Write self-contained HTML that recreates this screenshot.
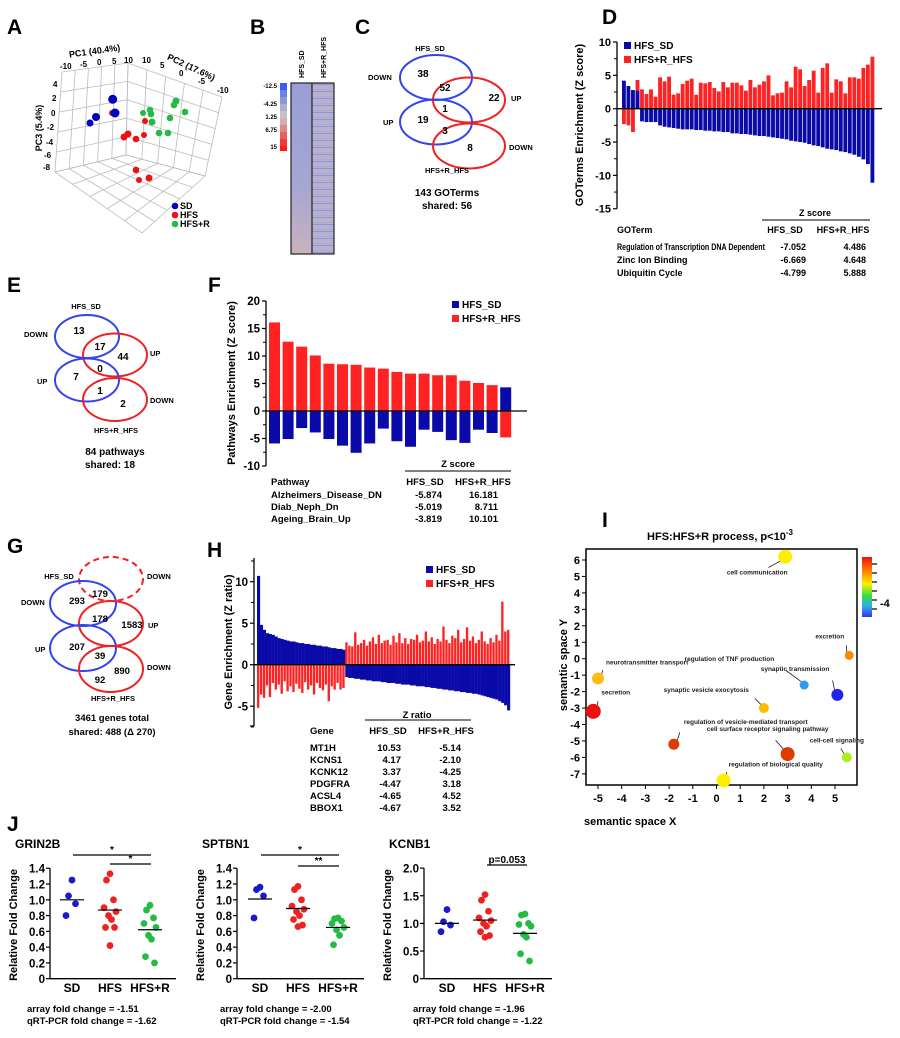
<!DOCTYPE html>
<html><head><meta charset="utf-8">
<style>
html,body{margin:0;padding:0;background:#fff;}
svg{display:block;font-family:"Liberation Sans",Arial,sans-serif;font-weight:bold;}
</style></head>
<body>
<svg id="fig" width="900" height="1038" viewBox="0 0 900 1038" xmlns="http://www.w3.org/2000/svg">
<rect width="900" height="1038" fill="#fff"/>
<!-- panel letters -->
<g font-size="21" fill="#000">
<text x="7" y="34">A</text><text x="250" y="34">B</text><text x="355" y="34">C</text><text x="602" y="24">D</text>
<text x="7" y="292">E</text><text x="208" y="292">F</text><text x="7" y="553">G</text><text x="207" y="557">H</text>
<text x="602" y="527">I</text><text x="7" y="831">J</text>
</g>

<!-- Panel A: 3D PCA -->
<g id="pA" stroke="#bbb" stroke-width="0.8" fill="none"></g>
<g font-size="8" fill="#000">
<text x="95" y="54" font-size="9" text-anchor="middle" transform="rotate(-8 95 54)">PC1 (40.4%)</text>
<text x="60" y="69">-10</text><text x="80" y="67">-5</text><text x="97" y="65">0</text><text x="112" y="64">5</text><text x="124" y="63">10</text>
<text x="190" y="70" font-size="9" text-anchor="middle" transform="rotate(25 190 70)">PC2 (17.6%)</text>
<text x="142" y="63">10</text><text x="160" y="68">5</text><text x="179" y="76">0</text><text x="198" y="84">-5</text><text x="217" y="93">-10</text>
<text x="42" y="128" font-size="9" text-anchor="middle" transform="rotate(-90 42 128)">PC3 (5.4%)</text>
<text x="53" y="87">4</text><text x="52" y="101">2</text><text x="51" y="116">0</text><text x="47" y="130">-2</text><text x="46" y="145">-4</text><text x="44" y="158">-6</text><text x="43" y="170">-8</text>
</g>
<g id="pAdots"></g>
<g font-size="9" fill="#000">
<circle cx="175" cy="206" r="3.3" fill="#0000c0"/><text x="180" y="209">SD</text>
<circle cx="175" cy="215" r="3.3" fill="#ee1111"/><text x="180" y="218">HFS</text>
<circle cx="175" cy="224" r="3.3" fill="#22bb44"/><text x="180" y="227">HFS+R</text>
</g>

<!-- Panel B heatmap -->
<defs>
<linearGradient id="hb1" x1="0" y1="0" x2="0" y2="1"><stop offset="0" stop-color="#9a9ed6"/><stop offset="0.6" stop-color="#a5a6d2"/><stop offset="1" stop-color="#c9b2bd"/></linearGradient>
<pattern id="hb2" width="22" height="7" patternUnits="userSpaceOnUse"><rect width="22" height="7" fill="#b4b2d0"/><rect y="0" width="22" height="1" fill="#9296d8"/><rect y="3.5" width="22" height="0.8" fill="#c6afbf"/><rect y="5.3" width="22" height="0.6" fill="#a3a6d6"/></pattern>
</defs>
<g>
<rect x="280" y="83" width="7" height="7" fill="#3b5cf0"/><rect x="280" y="90" width="7" height="7" fill="#6c80e0"/><rect x="280" y="97" width="7" height="7" fill="#8c98d6"/>
<rect x="280" y="104" width="7" height="7" fill="#aab0d2"/><rect x="280" y="111" width="7" height="7" fill="#c4c4c8"/><rect x="280" y="118" width="7" height="7" fill="#d4aeb0"/>
<rect x="280" y="125" width="7" height="7" fill="#e08888"/><rect x="280" y="132" width="7" height="7" fill="#e86060"/><rect x="280" y="139" width="7" height="7" fill="#f03a3a"/><rect x="280" y="146" width="7" height="5" fill="#ff1a1a"/>
<rect x="291" y="83" width="21" height="171" fill="url(#hb1)"/>
<rect x="312" y="83" width="22" height="171" fill="url(#hb2)"/>
<rect x="291" y="83" width="43" height="171" fill="none" stroke="#222" stroke-width="1.2"/>
<line x1="312" y1="83" x2="312" y2="254" stroke="#222" stroke-width="1.2"/>
</g>
<g font-size="6" fill="#000" text-anchor="end">
<text x="277" y="88">-12.5</text><text x="277" y="106">-4.25</text><text x="277" y="119">1.25</text><text x="277" y="132">6.75</text><text x="277" y="149">15</text>
</g>
<g font-size="7" fill="#000">
<text transform="translate(304 78) rotate(-90)">HFS_SD</text>
<text transform="translate(326 78) rotate(-90)">HFS+R_HFS</text>
</g>

<!-- Panel C Venn -->
<g fill="none" stroke-width="2">
<ellipse cx="436" cy="77.5" rx="36" ry="22.5" stroke="#3344ee"/>
<ellipse cx="469" cy="100" rx="36" ry="22.5" stroke="#ee2222"/>
<ellipse cx="436" cy="122" rx="36" ry="22.5" stroke="#3344ee"/>
<ellipse cx="469" cy="146" rx="36" ry="22.5" stroke="#ee2222"/>
</g>
<g font-size="7.5" fill="#000">
<text x="430" y="51" text-anchor="middle">HFS_SD</text><text x="368" y="80">DOWN</text><text x="383" y="125">UP</text>
<text x="511" y="101">UP</text><text x="509" y="150">DOWN</text><text x="447" y="173" text-anchor="middle">HFS+R_HFS</text>
</g>
<g font-size="10" fill="#000" text-anchor="middle">
<text x="423" y="77">38</text><text x="445" y="91">52</text><text x="494" y="101">22</text><text x="445" y="112">1</text>
<text x="423" y="123">19</text><text x="445" y="134">3</text><text x="470" y="151">8</text>
<text x="447" y="196">143 GOTerms</text><text x="447" y="209">shared: 56</text>
</g>

<!-- Panel D -->
<g id="pD"></g>
<g font-size="9" fill="#000">
<text x="815" y="216" text-anchor="middle">Z score</text>
<line x1="762" y1="220" x2="870" y2="220" stroke="#000" stroke-width="1"/>
<text x="617" y="233">GOTerm</text><text x="785" y="233" text-anchor="middle">HFS_SD</text><text x="843" y="233" text-anchor="middle">HFS+R_HFS</text>
<text x="617" y="250" textLength="148" lengthAdjust="spacingAndGlyphs">Regulation of Transcription DNA Dependent</text><text x="806" y="250" text-anchor="end">-7.052</text><text x="866" y="250" text-anchor="end">4.486</text>
<text x="617" y="263">Zinc Ion Binding</text><text x="806" y="263" text-anchor="end">-6.669</text><text x="866" y="263" text-anchor="end">4.648</text>
<text x="617" y="276">Ubiquitin Cycle</text><text x="806" y="276" text-anchor="end">-4.799</text><text x="866" y="276" text-anchor="end">5.888</text>
</g>

<!-- Panel E Venn -->
<g fill="none" stroke-width="2">
<ellipse cx="87" cy="336.5" rx="32" ry="21.5" stroke="#3344ee"/>
<ellipse cx="115" cy="355" rx="32" ry="21.5" stroke="#ee2222"/>
<ellipse cx="87" cy="380" rx="32" ry="21.5" stroke="#3344ee"/>
<ellipse cx="115" cy="399.5" rx="32" ry="21.5" stroke="#ee2222"/>
</g>
<g font-size="7.5" fill="#000">
<text x="86" y="309" text-anchor="middle">HFS_SD</text><text x="24" y="337">DOWN</text><text x="37" y="384">UP</text>
<text x="150" y="356">UP</text><text x="150" y="403">DOWN</text><text x="116" y="433" text-anchor="middle">HFS+R_HFS</text>
</g>
<g font-size="10" fill="#000" text-anchor="middle">
<text x="79" y="334">13</text><text x="100" y="350">17</text><text x="123" y="360">44</text><text x="100" y="372">0</text>
<text x="76" y="380">7</text><text x="100" y="394">1</text><text x="123" y="407">2</text>
<text x="115" y="455">84 pathways</text><text x="110" y="468">shared: 18</text>
</g>

<!-- Panel F -->
<g id="pF"></g>
<g font-size="9.5" fill="#000">
<text x="458" y="467" text-anchor="middle">Z score</text>
<line x1="405" y1="471" x2="511" y2="471" stroke="#000" stroke-width="1"/>
<text x="271" y="485">Pathway</text><text x="425" y="485" text-anchor="middle">HFS_SD</text><text x="483" y="485" text-anchor="middle">HFS+R_HFS</text>
<text x="271" y="498">Alzheimers_Disease_DN</text><text x="442" y="498" text-anchor="end">-5.874</text><text x="498" y="498" text-anchor="end">16.181</text>
<text x="271" y="510">Diab_Neph_Dn</text><text x="442" y="510" text-anchor="end">-5.019</text><text x="498" y="510" text-anchor="end">8.711</text>
<text x="271" y="522">Ageing_Brain_Up</text><text x="442" y="522" text-anchor="end">-3.819</text><text x="498" y="522" text-anchor="end">10.101</text>
</g>

<!-- Panel G Venn -->
<g fill="none" stroke-width="2">
<ellipse cx="111" cy="579" rx="32" ry="22" stroke="#ee2222" stroke-dasharray="6,4"/>
<ellipse cx="83" cy="603.5" rx="33" ry="22.5" stroke="#3344ee"/>
<ellipse cx="111" cy="623.5" rx="32" ry="22.5" stroke="#ee2222"/>
<ellipse cx="83" cy="648" rx="33" ry="23" stroke="#3344ee"/>
<ellipse cx="111" cy="669" rx="32" ry="23" stroke="#ee2222"/>
</g>
<g font-size="7.5" fill="#000">
<text x="59" y="579" text-anchor="middle">HFS_SD</text><text x="147" y="579">DOWN</text><text x="21" y="605">DOWN</text>
<text x="148" y="628">UP</text><text x="35" y="652">UP</text><text x="147" y="670">DOWN</text>
<text x="113" y="701" text-anchor="middle">HFS+R_HFS</text>
</g>
<g font-size="9.5" fill="#000" text-anchor="middle">
<text x="77" y="604">293</text><text x="100" y="597">179</text><text x="100" y="622">178</text><text x="132" y="628">1583</text>
<text x="77" y="650">207</text><text x="100" y="659">39</text><text x="100" y="683">92</text><text x="122" y="674">890</text>
<text x="112" y="721">3461 genes total</text><text x="112" y="735">shared: 488 (Δ 270)</text>
</g>

<!-- Panel H -->
<g id="pH"></g>
<g font-size="9.5" fill="#000">
<text x="417" y="718" text-anchor="middle">Z ratio</text>
<line x1="365" y1="720" x2="471" y2="720" stroke="#000" stroke-width="1"/>
<text x="310" y="734">Gene</text><text x="388" y="734" text-anchor="middle">HFS_SD</text><text x="446" y="734" text-anchor="middle">HFS+R_HFS</text>
<text x="310" y="751">MT1H</text><text x="401" y="751" text-anchor="end">10.53</text><text x="461" y="751" text-anchor="end">-5.14</text>
<text x="310" y="763">KCNS1</text><text x="401" y="763" text-anchor="end">4.17</text><text x="461" y="763" text-anchor="end">-2.10</text>
<text x="310" y="775">KCNK12</text><text x="401" y="775" text-anchor="end">3.37</text><text x="461" y="775" text-anchor="end">-4.25</text>
<text x="310" y="787">PDGFRA</text><text x="401" y="787" text-anchor="end">-4.47</text><text x="461" y="787" text-anchor="end">3.18</text>
<text x="310" y="799">ACSL4</text><text x="401" y="799" text-anchor="end">-4.65</text><text x="461" y="799" text-anchor="end">4.52</text>
<text x="310" y="811">BBOX1</text><text x="401" y="811" text-anchor="end">-4.67</text><text x="461" y="811" text-anchor="end">3.52</text>
</g>

<!-- Panel I -->
<defs>
<linearGradient id="rainbow" x1="0" y1="0" x2="0" y2="1">
<stop offset="0" stop-color="#ee1111"/><stop offset="0.25" stop-color="#ff8800"/><stop offset="0.45" stop-color="#ffee00"/><stop offset="0.65" stop-color="#33dd44"/><stop offset="0.82" stop-color="#33aaee"/><stop offset="1" stop-color="#3333ee"/>
</linearGradient>
</defs>
<g id="pI"></g>
<g fill="#000">
<text x="720" y="540" font-size="11" text-anchor="middle">HFS:HFS+R   process, p&lt;10<tspan font-size="8" dy="-5">-3</tspan></text>
<text x="584" y="825" font-size="11">semantic space X</text>
<text x="567" y="665" font-size="11" text-anchor="middle" transform="rotate(-90 567 665)">semantic space Y</text>
<rect x="862" y="557" width="10" height="60" fill="url(#rainbow)"/>
<text x="880" y="607" font-size="11">-4</text>
</g>

<!-- Panel J -->
<g id="pJ"></g>
<g font-size="9.5" fill="#000">
<text x="27" y="1012">array fold change = -1.51</text><text x="27" y="1024">qRT-PCR fold change = -1.62</text>
<text x="220" y="1012">array fold change = -2.00</text><text x="220" y="1024">qRT-PCR fold change = -1.54</text>
<text x="413" y="1012">array fold change = -1.96</text><text x="413" y="1024">qRT-PCR fold change = -1.22</text>
</g>
</svg>

<script>
// ---------- DATA ----------
const pcaSD = [[112.7,99.3,4.5],[115,113,4.5],[96,117,4],[90,123,3.5]];
const pcaHFS = [[112,113,3],[145,121,3],[124,137,3.5],[128,134,3.5],[136,139,3.3],[144,135,3],[136,170,3.3],[149,178,3.5],[139,180,3]];
const pcaHFSR = [[176,101,3.5],[174,105,3.3],[185,112,3.3],[150,110,3.3],[143,113,3],[151,114,3.3],[170,118,3.3],[152,122,3.5],[159,133,3.3],[168,133,3.3]];

const goBlue = [4.2,3.4,2.8,2.7,-1.9,-2.0,-2.0,-2.0,-2.5,-2.7,-2.8,-2.9,-3.0,-3.1,-3.1,-3.1,-3.2,-3.2,-3.3,-3.3,-3.4,-3.4,-3.5,-3.5,-3.7,-3.7,-3.8,-3.8,-3.9,-4.0,-4.1,-4.1,-4.2,-4.3,-4.4,-4.5,-4.6,-4.8,-4.9,-5.0,-5.1,-5.3,-5.5,-5.6,-5.8,-6.0,-6.1,-6.2,-6.4,-6.5,-6.7,-6.9,-7.2,-7.6,-8.3,-11.1];
const goRed = [-2.3,-2.5,-3.5,4.3,2.9,2.2,2.9,1.8,4.7,4.1,4.8,2.1,2.3,3.7,4.2,4.5,2.1,3.9,3.8,4.0,3.1,2.6,4.0,3.2,3.9,3.9,3.5,2.7,4.3,3.2,3.6,4.1,5.0,2.0,2.3,2.4,4.1,3.2,6.3,5.9,3.4,4.3,5.7,2.4,6.1,6.8,2.4,4.4,4.1,2.3,4.7,4.7,4.5,6.1,6.6,7.8];
const goTicks = [10,5,0,-5,-10,-15];

const pwRed = [16.1,12.6,11.7,10.1,8.6,8.5,8.4,7.9,7.7,7.1,6.8,6.8,6.5,6.5,5.5,5.1,4.7,-4.8];
const pwBlue = [-5.9,-5.1,-3.1,-3.9,-5.1,-6.3,-7.6,-5.9,-3.2,-5.5,-6.5,-3.4,-3.8,-5.3,-5.8,-3.4,-4.0,4.3];
const pwTicks = [20,15,10,5,0,-5,-10];

const geneBlue = [10.7,4.8,4.2,3.8,3.7,3.6,3.4,3.2,3.1,3.0,2.9,2.8,2.8,2.7,2.6,2.6,2.5,2.5,2.4,2.4,2.3,2.3,2.2,2.2,2.1,2.0,2.0,1.9,1.9,1.8,
 -1.5,-1.6,-1.6,-1.7,-1.7,-1.8,-1.8,-1.9,-1.9,-2.0,-2.0,-2.0,-2.1,-2.1,-2.2,-2.2,-2.2,-2.3,-2.3,-2.4,-2.4,-2.4,-2.5,-2.5,-2.6,-2.6,-2.6,-2.7,-2.7,-2.8,-2.8,-2.9,-2.9,-3.0,-3.0,-3.1,-3.1,-3.2,-3.2,-3.3,-3.3,-3.4,-3.4,-3.5,-3.5,-3.6,-3.7,-3.8,-3.9,-4.0,-4.1,-4.2,-4.4,-4.6,-4.9,-5.5];
const geneRed = [-5.2,-3.6,-4.0,-2.5,-3.9,-2.2,-3.0,-2.4,-3.5,-2.0,-3.2,-2.6,-3.3,-2.3,-2.9,-3.4,-2.1,-3.0,-2.5,-3.6,-2.2,-2.8,-3.1,-2.4,-4.4,-2.6,-3.0,-2.2,-3.0,-2.8,
 2.7,2.3,2.2,3.9,2.4,2.6,3.0,2.3,2.8,3.3,2.5,3.6,2.6,2.9,3.0,2.4,3.5,2.7,3.8,2.6,3.2,2.5,3.1,3.0,3.6,2.7,2.9,4.0,2.8,3.3,2.5,3.1,2.8,4.6,3.0,2.6,3.5,3.2,4.2,2.7,3.1,4.5,2.9,3.4,2.6,3.0,4.0,2.8,2.5,3.2,2.7,3.6,2.9,7.6,4.0,4.2];
const geneTicks = [10,5,0,-5];

const termNames = ["cell communication","excretion","regulation of TNF production","synaptic transmission","synaptic vesicle exocytosis","neurotransmitter transport","secretion","regulation of vesicle-mediated transport","cell surface receptor signaling pathway","cell-cell signaling","regulation of biological quality"];
const termX = [2.9,5.6,3.7,5.1,2.0,-5.0,-5.2,-1.8,3.0,5.5,0.3];
const termY = [6.2,0.2,-1.6,-2.2,-3.0,-1.2,-3.2,-5.2,-5.8,-6.0,-7.4];
const termSize = [7,4.5,4.5,6,5,6,7.5,5.5,7,5,7];
const termColor = ["#ffee00","#ff8800","#3399ee","#2222ee","#ffbb00","#ffbb11","#ee1111","#e03a00","#e03a00","#aaee22","#ffee00"];
const semXTicks = [-5,-4,-3,-2,-1,0,1,2,3,4,5];
const semYTicks = [6,5,4,3,2,1,0,-1,-2,-3,-4,-5,-6,-7];

const groups = ["SD","HFS","HFS+R"];
const grinSD=[1.25,1.05,0.95,0.8], grinHFS=[1.33,1.25,1.0,0.9,0.85,0.8,0.75,0.65,0.65,0.42], grinR=[0.93,0.87,0.77,0.7,0.65,0.55,0.5,0.28,0.2];
const grinMean=[1.0,0.87,0.62];
const spSD=[1.16,1.13,1.05,0.77], spHFS=[1.17,1.13,1.0,0.92,0.88,0.85,0.8,0.75,0.68,0.66], spR=[0.77,0.76,0.73,0.7,0.65,0.62,0.55,0.43];
const spMean=[1.01,0.89,0.65];
const kcSD=[1.25,1.03,0.97,0.85], kcHFS=[1.52,1.42,1.22,1.1,1.05,1.0,0.95,0.85,0.78,0.75], kcR=[1.17,1.15,1.0,0.98,0.95,0.8,0.75,0.45,0.32];
const kcMean=[1.0,1.06,0.82];
const tickA=[0,0.2,0.4,0.6,0.8,1.0,1.2,1.4];
const tickB=[0,0.5,1.0,1.5,2.0];
const tickBLabels=["0","0.5","1.0","1.5","2.0"];

// ---------- DRAW ----------
const NS="http://www.w3.org/2000/svg";
function mk(tag,parent,attrs){const e=document.createElementNS(NS,tag);for(const k in attrs)e.setAttribute(k,attrs[k]);parent.appendChild(e);return e;}
const BLUE="#0a0aa8", RED="#ff2222";

// A box with grid
(function(){
 const g=document.getElementById('pA');
 const walls=[[[62,72],[128,63],[126,155],[55,172]],[[128,63],[222,97],[205,176],[126,155]],[[55,172],[126,155],[205,176],[142,233]]];
 const lerp=(a,b,t)=>[a[0]+(b[0]-a[0])*t,a[1]+(b[1]-a[1])*t];
 walls.forEach(q=>{
  const w=mk('polygon',g,{points:q.map(p=>p.join(',')).join(' ')});
  
  
  for(let k=1;k<5;k++){
   const t=k/5;
   const a=lerp(q[0],q[1],t), b=lerp(q[3],q[2],t);
   mk('line',g,{x1:a[0],y1:a[1],x2:b[0],y2:b[1]});
   const c=lerp(q[0],q[3],t), d=lerp(q[1],q[2],t);
   mk('line',g,{x1:c[0],y1:c[1],x2:d[0],y2:d[1]});
  }
 });
})();
const pAd=document.getElementById('pAdots');
[[pcaHFS,"#ee1111"],[pcaSD,"#0000c0"],[pcaHFSR,"#22bb44"]].forEach(([arr,c])=>{arr.forEach(p=>{
 const e=mk('circle',pAd,{cx:p[0],cy:p[1],r:p[2],fill:c});
 
 
});});

function yAxis(g,x,y0,y1,ticks,ys,fs,labels){
 const ax=mk('line',g,{x1:x,y1:y0,x2:x,y2:y1,stroke:'#000','stroke-width':1.3});
 
 
 ticks.forEach((t,i)=>{
  mk('line',g,{x1:x-4,y1:ys(t),x2:x,y2:ys(t),stroke:'#000','stroke-width':1.2});
  const tx=mk('text',g,{x:x-6,y:ys(t)+fs*0.36,'font-size':fs,'text-anchor':'end'});
  tx.textContent=labels?labels[i]:String(t);
  
  
 });
}
function legend(g,x,y){
 mk('rect',g,{x:x,y:y,width:7,height:7,fill:BLUE});
 const l1=mk('text',g,{x:x+10,y:y+7,'font-size':10});l1.textContent='HFS_SD';
 
 
 mk('rect',g,{x:x,y:y+14,width:7,height:7,fill:RED});
 const l2=mk('text',g,{x:x+10,y:y+21,'font-size':10});l2.textContent='HFS+R_HFS';
 
 
}

// D
(function(){
 const g=document.getElementById('pD');
 const ys=v=>108.7-v*6.67;
 const N=Math.min(goBlue.length,goRed.length), x0=622, W=253, p=W/N;
 for(let i=0;i<N;i++){
  const v=goRed[i]; const r=mk('rect',g,{x:x0+i*p,y:Math.min(ys(v),ys(0)),width:p*0.85,height:Math.abs(ys(v)-ys(0)),fill:RED});
  
  
 }
 for(let i=0;i<N;i++){
  const v=goBlue[i]; const r=mk('rect',g,{x:x0+i*p,y:Math.min(ys(v),ys(0)),width:p*0.85,height:Math.abs(ys(v)-ys(0)),fill:BLUE});
  
  
 }
 mk('line',g,{x1:617,y1:ys(0),x2:882,y2:ys(0),stroke:'#000','stroke-width':1.3});
 yAxis(g,617,ys(10),ys(-15),goTicks,ys,11);
 for(let v=7.5;v>-15;v-=5) mk('line',g,{x1:614,y1:ys(v),x2:617,y2:ys(v),stroke:'#000'});
 const t=mk('text',g,{x:583,y:125,'font-size':11,'text-anchor':'middle',transform:'rotate(-90 583 125)'});t.textContent='GOTerms Enrichment (Z score)';
 
 
 legend(g,624,42);
})();

// F
(function(){
 const g=document.getElementById('pF');
 const ys=v=>411-v*5.5;
 const N=Math.min(pwRed.length,pwBlue.length);
 for(let i=0;i<N;i++){
  const x=269+i*13.6;
  const a=pwRed[i], b=pwBlue[i];
  const r=mk('rect',g,{x:x,y:Math.min(ys(a),ys(0)),width:11,height:Math.abs(ys(a)-ys(0)),fill:RED});
  
  
  const r2=mk('rect',g,{x:x,y:Math.min(ys(b),ys(0)),width:11,height:Math.abs(ys(b)-ys(0)),fill:BLUE});
  
  
 }
 mk('line',g,{x1:266,y1:ys(0),x2:527,y2:ys(0),stroke:'#000','stroke-width':1.3});
 yAxis(g,266,ys(20),ys(-10),pwTicks,ys,11.5);
 for(let v=17.5;v>-10;v-=5) mk('line',g,{x1:263,y1:ys(v),x2:266,y2:ys(v),stroke:'#000'});
 const t=mk('text',g,{x:235,y:383,'font-size':11,'text-anchor':'middle',transform:'rotate(-90 235 383)'});t.textContent='Pathways Enrichment (Z score)';
 
 
 legend(g,452,301);
})();

// H
(function(){
 const g=document.getElementById('pH');
 const ys=v=>664.7-v*8.3;
 const N=Math.min(geneBlue.length,geneRed.length), x0=257, W=253, p=W/N;
 for(let i=0;i<N;i++){
  const a=geneRed[i], b=geneBlue[i];
  const r=mk('rect',g,{x:x0+i*p,y:Math.min(ys(a),ys(0)),width:p*0.8,height:Math.abs(ys(a)-ys(0)),fill:RED});
  
  
  const r2=mk('rect',g,{x:x0+i*p,y:Math.min(ys(b),ys(0)),width:p+0.2,height:Math.abs(ys(b)-ys(0)),fill:BLUE});
  
  
 }
 mk('line',g,{x1:254,y1:ys(0),x2:515,y2:ys(0),stroke:'#000','stroke-width':1.3});
 yAxis(g,254,558,726,geneTicks,ys,11.5);
 for(let v=12.5;v>-8;v-=5) mk('line',g,{x1:251,y1:ys(v),x2:254,y2:ys(v),stroke:'#000'});
 mk('line',g,{x1:250,y1:726,x2:254,y2:726,stroke:'#000','stroke-width':1.2});
 const t=mk('text',g,{x:232,y:642,'font-size':11,'text-anchor':'middle',transform:'rotate(-90 232 642)'});t.textContent='Gene Enrichment (Z ratio)';
 
 
 legend(g,426,566);
})();

// I
(function(){
 const g=document.getElementById('pI');
 const px=v=>716.5+v*23.7, py=v=>658.7-v*16.45;
 const fr=mk('rect',g,{x:586,y:549,width:271,height:236,fill:'none',stroke:'#000','stroke-width':1.5});
 
 
 semYTicks.forEach(t=>{
  mk('line',g,{x1:582,y1:py(t),x2:586,y2:py(t),stroke:'#000'});
  const tx=mk('text',g,{x:580,y:py(t)+4,'font-size':11,'text-anchor':'end'});tx.textContent=String(t);
  
  
 });
 semXTicks.forEach(t=>{
  mk('line',g,{x1:px(t),y1:785,x2:px(t),y2:789,stroke:'#000'});
  const tx=mk('text',g,{x:px(t),y:802,'font-size':11,'text-anchor':'middle'});tx.textContent=String(t);
  
  
 });
 const labOff=[[-28,18,'middle'],[-5,-17,'end'],[-30,-24,'end'],[-8,-24,'end'],[-15,-16,'end'],[8,-14,'start'],[8,-17,'start'],[10,-20,'start'],[-20,-23,'middle'],[-10,-15,'middle'],[5,-14,'start']];
 for(let i=0;i<termNames.length;i++){
  const cx=px(termX[i]), cy=py(termY[i]), o=labOff[i];
  const ln=mk('line',g,{x1:cx+(o[0]>0?4:-3)*0.8,y1:cy+(o[1]>0?3:-3),x2:cx+o[0]*0.6,y2:cy+o[1]*0.6,stroke:'#222','stroke-width':0.8});
  
  
  const c=mk('circle',g,{cx:cx,cy:cy,r:termSize[i],fill:termColor[i]});
  
  
  const tx=mk('text',g,{x:cx+o[0],y:cy+o[1],'font-size':6.5,'text-anchor':o[2],fill:'#222'});tx.textContent=termNames[i];
  
  
 }
 for(let k=0;k<6;k++) mk('line',g,{x1:872,y1:564+k*9,x2:877,y2:564+k*9,stroke:'#000','stroke-width':1.2});
})();

// J
function dotPlot(g,axX,endX,xs,vals,means,ys,ticks,tickLabels,title,sig){
 const titleEl=mk('text',g,{x:axX-35,y:848,'font-size':12});titleEl.textContent=title;
 
 
 mk('line',g,{x1:axX,y1:ys(ticks[ticks.length-1]),x2:axX,y2:ys(0),stroke:'#000','stroke-width':1.3});
 mk('line',g,{x1:axX,y1:ys(0),x2:endX,y2:ys(0),stroke:'#000','stroke-width':1.3});
 ticks.forEach((t,i)=>{
  mk('line',g,{x1:axX-4,y1:ys(t),x2:axX,y2:ys(t),stroke:'#000','stroke-width':1.2});
  const tx=mk('text',g,{x:axX-5,y:ys(t)+4.5,'font-size':11.5,'text-anchor':'end'});tx.textContent=tickLabels?tickLabels[i]:(t===0?'0':t.toFixed(1));
  
  
 });
 const yt=mk('text',g,{x:axX-33,y:925,'font-size':11,'text-anchor':'middle',transform:'rotate(-90 '+(axX-33)+' 925)'});yt.textContent='Relative Fold Change';
 
 
 const cols=['#1a1acc','#ee2222','#22bb44'];
 const jit=[0,-3.5,3.5,-6,6,-1.5,1.5,-4.5,4.5,0];
 for(let k=0;k<3;k++){
  const lab=mk('text',g,{x:xs[k],y:992,'font-size':12,'text-anchor':'middle'});lab.textContent=groups[k];
  
  
  vals[k].forEach((v,j)=>{
   const c=mk('circle',g,{cx:xs[k]+jit[j%jit.length],cy:ys(v),r:3.4,fill:cols[k]});
   
   
  });
  const m=mk('line',g,{x1:xs[k]-12,y1:ys(means[k]),x2:xs[k]+12,y2:ys(means[k]),stroke:'#000','stroke-width':1.2});
  
  
 }
 sig.forEach(s=>{
  const l=mk('line',g,{x1:s[0],y1:s[2],x2:s[1],y2:s[2],stroke:'#000','stroke-width':1.2});
  
  
  const t=mk('text',g,{x:(s[0]+s[1])/2,y:s[2]-2,'font-size':10,'text-anchor':'middle'});t.textContent=s[3];
  
  
 });
}
(function(){
 const g=document.getElementById('pJ');
 const ysA=v=>978.7-v*78.9, ysB=v=>978.7-v*55.3;
 dotPlot(g,50,176,[72,110,150],[grinSD,grinHFS,grinR],grinMean,ysA,tickA,null,'GRIN2B',[[73,151,855,'*'],[110,151,864,'*']]);
 dotPlot(g,237,364,[260,298,338],[spSD,spHFS,spR],spMean,ysA,tickA,null,'SPTBN1',[[261,339,855,'*'],[298,339,866,'**']]);
 dotPlot(g,424,552,[447,485,525],[kcSD,kcHFS,kcR],kcMean,ysB,tickB,tickBLabels,'KCNB1',[[487,527,865,'p=0.053']]);
})();
</script>
</body></html>
